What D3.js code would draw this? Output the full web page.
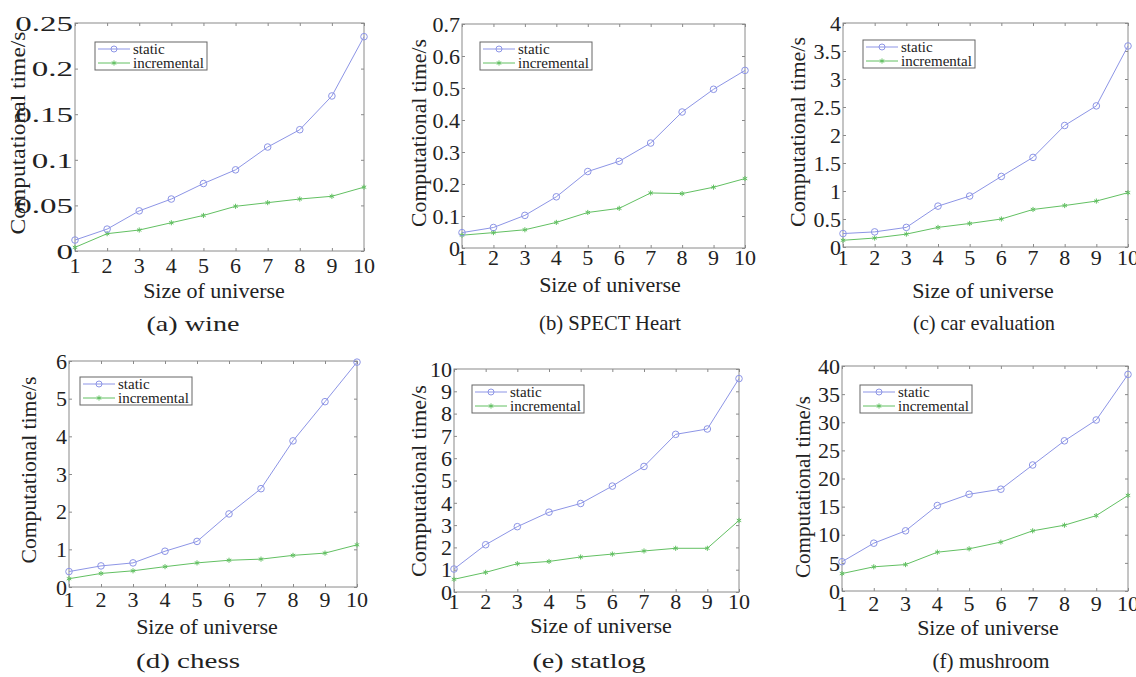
<!DOCTYPE html>
<html>
<meta charset="utf-8">
<body>
<script src="https://d3js.org/d3.v7.min.js"></script>
<script>
var width = 1136,
    height = 677;

// ---- data ----
var universeSizes = [1, 2, 3, 4, 5, 6, 7, 8, 9, 10];
var seriesNames = ["static", "incremental"];
var captions = ["(a) wine", "(b) SPECT Heart", "(c) car evaluation",
                "(d) chess", "(e) statlog", "(f) mushroom"];
var yMaxes = [0.25, 0.7, 4, 6, 10, 40];
var yTickSteps = [0.05, 0.1, 0.5, 1, 1, 5];

var wineStatic      = [0.012, 0.024, 0.044, 0.057, 0.074, 0.089, 0.114, 0.133, 0.170, 0.235];
var wineIncremental = [0.004, 0.019, 0.023, 0.031, 0.039, 0.049, 0.053, 0.057, 0.060, 0.070];
var heartStatic      = [0.048, 0.064, 0.102, 0.160, 0.239, 0.271, 0.328, 0.425, 0.496, 0.555];
var heartIncremental = [0.040, 0.048, 0.057, 0.080, 0.111, 0.124, 0.172, 0.170, 0.190, 0.217];
var carStatic      = [0.24, 0.27, 0.35, 0.73, 0.91, 1.26, 1.60, 2.17, 2.52, 3.59];
var carIncremental = [0.12, 0.16, 0.23, 0.35, 0.42, 0.50, 0.67, 0.74, 0.82, 0.97];
var chessStatic      = [0.41, 0.56, 0.64, 0.95, 1.21, 1.94, 2.61, 3.88, 4.92, 5.97];
var chessIncremental = [0.22, 0.36, 0.43, 0.54, 0.64, 0.71, 0.74, 0.84, 0.90, 1.12];
var statlogStatic      = [1.03, 2.12, 2.93, 3.58, 3.97, 4.75, 5.63, 7.07, 7.31, 9.57];
var statlogIncremental = [0.57, 0.88, 1.27, 1.37, 1.57, 1.70, 1.84, 1.96, 1.96, 3.21];
var mushroomStatic      = [5.2, 8.5, 10.7, 15.2, 17.2, 18.1, 22.4, 26.7, 30.4, 38.5];
var mushroomIncremental = [3.1, 4.3, 4.7, 6.9, 7.5, 8.7, 10.7, 11.7, 13.4, 17.0];

var staticSeries = [wineStatic, heartStatic, carStatic, chessStatic, statlogStatic, mushroomStatic];
var incrementalSeries = [wineIncremental, heartIncremental, carIncremental,
                         chessIncremental, statlogIncremental, mushroomIncremental];

// ---- where each panel sits on the page ----
var layout = [
  {left: 75,  top: 23,  right: 364,  bottom: 251, leg: [95, 42],  tickY: 14, xl: [214, 290], cap: [193, 324], capW: 93,  yl: [17, 133],  ylW: 203, yTickStretch: 1.5},
  {left: 462, top: 24,  right: 745,  bottom: 248, leg: [480, 42], tickY: 9,  xl: [610, 284], cap: [610, 323], capW: 142, yl: [418, 133], ylW: 188, yTickStretch: 1},
  {left: 843, top: 23,  right: 1128, bottom: 247, leg: [863, 40], tickY: 10, xl: [983, 290], cap: [984, 323], capW: 142, yl: [797, 132], ylW: 190, yTickStretch: 1},
  {left: 69,  top: 361, right: 357,  bottom: 587, leg: [80, 377], tickY: 12, xl: [207, 626], cap: [188, 661], capW: 104, yl: [28, 470],  ylW: 187, yTickStretch: 1},
  {left: 454, top: 369, right: 739,  bottom: 592, leg: [472, 385], tickY: 9, xl: [601, 625], cap: [589, 661], capW: 113, yl: [418, 481], ylW: 192, yTickStretch: 1},
  {left: 842, top: 366, right: 1128, bottom: 591, leg: [860, 385], tickY: 12, xl: [988, 627], cap: [991, 661], capW: 117, yl: [802, 487], ylW: 182, yTickStretch: 1}
];

var staticColor = "#8d95e6",
    incColor = "#62c062",
    boxColor = "#8a8a8a",
    textColor = "#222";

d3.select("body").style("margin", "0px");

var svg = d3.select("body").append("svg")
    .attr("width", width)
    .attr("height", height);

var fmt = d3.format("~g");

function styleText(sel, size) {
  sel.attr("font-family", "Liberation Serif")
     .style("font-family", "'Liberation Serif'")
     .style("font-size", size + "px")
     .attr("fill", textColor);
}

captions.forEach(function(caption, p) {
  var L = layout[p];
  var yMax = yMaxes[p];
  var yTicks = d3.range(0, yMax + yTickSteps[p] / 2, yTickSteps[p]);

  var x = d3.scaleLinear().domain([1, 10]).range([L.left, L.right]);
  var y = d3.scaleLinear().domain([0, yMax]).range([L.bottom, L.top]);

  var g = svg.append("g");

  // frame
  g.append("rect")
    .attr("x", L.left).attr("y", L.top)
    .attr("width", L.right - L.left).attr("height", L.bottom - L.top)
    .attr("fill", "none").attr("stroke", boxColor);

  // inward ticks on all four sides (drawn from the axes, labels added as plain texts)
  var bottomAxis = g.append("g")
    .attr("transform", "translate(0," + L.bottom + ")")
    .call(d3.axisBottom(x).tickValues(universeSizes).tickSizeInner(-3).tickSizeOuter(0).tickFormat(""));
  g.append("g")
    .attr("transform", "translate(0," + L.top + ")")
    .call(d3.axisTop(x).tickValues(universeSizes).tickSizeInner(-3).tickSizeOuter(0).tickFormat(""));
  g.append("g")
    .attr("transform", "translate(" + L.left + ",0)")
    .call(d3.axisLeft(y).tickValues(yTicks).tickSizeInner(-3).tickSizeOuter(0).tickFormat(""));
  g.append("g")
    .attr("transform", "translate(" + L.right + ",0)")
    .call(d3.axisRight(y).tickValues(yTicks).tickSizeInner(-3).tickSizeOuter(0).tickFormat(""));
  g.selectAll(".domain").remove();
  g.selectAll(".tick line").attr("stroke", boxColor);
  g.selectAll(".tick text").remove();

  // tick labels
  universeSizes.forEach(function(v) {
    svg.append("text")
      .attr("x", x(v)).attr("y", L.bottom + L.tickY).attr("dy", "0.35em")
      .attr("text-anchor", "middle")
      .call(styleText, 22)
      .text(fmt(v));
  });
  yTicks.forEach(function(v) {
    svg.append("text")
      .attr("transform", "translate(" + (L.left - 2) + "," + y(v) + ") scale(" + L.yTickStretch + ",1)")
      .attr("dy", "0.35em")
      .attr("text-anchor", "end")
      .call(styleText, 22)
      .text(fmt(v));
  });

  // series
  var line = d3.line()
    .x(function(d, i) { return x(universeSizes[i]); })
    .y(function(d) { return y(d); });

  g.append("path").datum(incrementalSeries[p])
    .attr("d", line)
    .attr("fill", "none").attr("stroke", incColor);
  g.append("path").datum(staticSeries[p])
    .attr("d", line)
    .attr("fill", "none").attr("stroke", staticColor);

  var star = d3.symbol().type(d3.symbolAsterisk).size(18);
  g.selectAll(".inc-pt").data(incrementalSeries[p]).enter()
    .append("path").attr("class", "inc-pt")
    .attr("d", star)
    .attr("transform", function(d, i) { return "translate(" + x(universeSizes[i]) + "," + y(d) + ")"; })
    .attr("fill", "none").attr("stroke", incColor);

  g.selectAll(".st-pt").data(staticSeries[p]).enter()
    .append("circle").attr("class", "st-pt")
    .attr("cx", function(d, i) { return x(universeSizes[i]); })
    .attr("cy", function(d) { return y(d); })
    .attr("r", 3.3)
    .attr("fill", "none").attr("stroke", staticColor);

  // legend
  var leg = g.append("g").attr("transform", "translate(" + L.leg[0] + "," + L.leg[1] + ")");
  leg.append("rect")
    .attr("width", 112).attr("height", 28)
    .attr("fill", "#fff").attr("stroke", "#666");
  seriesNames.forEach(function(name, i) {
    var col = i === 0 ? staticColor : incColor;
    var ly = 7 + i * 14;
    leg.append("line")
      .attr("x1", 3).attr("x2", 35).attr("y1", ly).attr("y2", ly)
      .attr("stroke", col);
    if (i === 0) {
      leg.append("circle").attr("cx", 19).attr("cy", ly).attr("r", 3)
        .attr("fill", "none").attr("stroke", col);
    } else {
      leg.append("path").attr("d", star)
        .attr("transform", "translate(19," + ly + ")")
        .attr("fill", "none").attr("stroke", col);
    }
    svg.append("text")
      .attr("x", L.leg[0] + 38).attr("y", L.leg[1] + ly).attr("dy", "0.33em")
      .call(styleText, 15)
      .text(name);
  });

  // axis titles and caption
  svg.append("text")
    .attr("x", L.xl[0]).attr("y", L.xl[1]).attr("dy", "0.35em")
    .attr("text-anchor", "middle")
    .call(styleText, 22)
    .text("Size of universe");

  svg.append("text")
    .attr("transform", "translate(" + L.yl[0] + "," + L.yl[1] + ") rotate(-90)")
    .attr("dy", "0.35em")
    .attr("text-anchor", "middle")
    .attr("textLength", L.ylW).attr("lengthAdjust", "spacingAndGlyphs")
    .call(styleText, 22)
    .text("Computational time/s");

  svg.append("text")
    .attr("x", L.cap[0] - L.capW / 2).attr("y", L.cap[1]).attr("dy", "0.35em")
    .attr("textLength", L.capW).attr("lengthAdjust", "spacingAndGlyphs")
    .call(styleText, 21)
    .text(caption);
});
</script>
</body>
</html>
